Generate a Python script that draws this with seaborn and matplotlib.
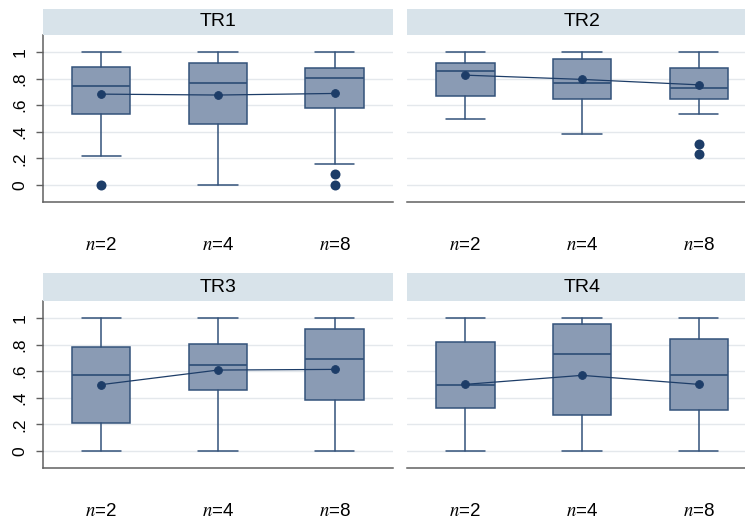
import numpy as np
import pandas as pd
import matplotlib
matplotlib.use("Agg")
import matplotlib.pyplot as plt
import seaborn as sns

# ---- data -----------------------------------------------------------------
groups = ["n=2", "n=4", "n=8"]
tick_labels = [r"$n$=2", r"$n$=4", r"$n$=8"]
panels = ["TR1", "TR2", "TR3", "TR4"]

# five-number summaries per panel (lower whisker, Q1, median, Q3, upper whisker)
tr1_whislo = [0.218, 0.0, 0.155]
tr1_q1 = [0.534, 0.461, 0.577]
tr1_med = [0.747, 0.765, 0.802]
tr1_q3 = [0.887, 0.920, 0.880]
tr1_whishi = [1.0, 1.0, 1.0]
tr1_mean = [0.684, 0.677, 0.689]
tr1_outliers = [[0.0], [], [0.08, 0.0]]

tr2_whislo = [0.499, 0.383, 0.536]
tr2_q1 = [0.672, 0.649, 0.649]
tr2_med = [0.855, 0.765, 0.729]
tr2_q3 = [0.922, 0.952, 0.880]
tr2_whishi = [1.0, 1.0, 1.0]
tr2_mean = [0.827, 0.795, 0.754]
tr2_outliers = [[], [], [0.31, 0.23]]

tr3_whislo = [0.0, 0.0, 0.0]
tr3_q1 = [0.213, 0.459, 0.383]
tr3_med = [0.569, 0.649, 0.689]
tr3_q3 = [0.782, 0.805, 0.920]
tr3_whishi = [1.0, 1.0, 1.0]
tr3_mean = [0.499, 0.609, 0.614]
tr3_outliers = [[], [], []]

tr4_whislo = [0.0, 0.0, 0.0]
tr4_q1 = [0.323, 0.271, 0.308]
tr4_med = [0.496, 0.729, 0.574]
tr4_q3 = [0.820, 0.960, 0.842]
tr4_whishi = [1.0, 1.0, 1.0]
tr4_mean = [0.501, 0.569, 0.501]
tr4_outliers = [[], [], []]

y_ticks = [0, 0.2, 0.4, 0.6, 0.8, 1.0]
y_ticklabels = ["0", ".2", ".4", ".6", ".8", "1"]

summaries = {
    "TR1": (tr1_whislo, tr1_q1, tr1_med, tr1_q3, tr1_whishi, tr1_mean, tr1_outliers),
    "TR2": (tr2_whislo, tr2_q1, tr2_med, tr2_q3, tr2_whishi, tr2_mean, tr2_outliers),
    "TR3": (tr3_whislo, tr3_q1, tr3_med, tr3_q3, tr3_whishi, tr3_mean, tr3_outliers),
    "TR4": (tr4_whislo, tr4_q1, tr4_med, tr4_q3, tr4_whishi, tr4_mean, tr4_outliers),
}

# ---- style ----------------------------------------------------------------
sns.set_theme(style="white")
plt.rcParams["font.family"] = ["Liberation Sans", "DejaVu Sans"]
plt.rcParams["mathtext.fontset"] = "stix"

BOX_FILL = "#8a9bb4"
BOX_EDGE = "#33527a"
DOT = "#1d3d68"
STRIP = "#d8e3ea"
GRID = "#e4e8ec"
AXIS = "#606060"

W, H = 745, 521
fig = plt.figure(figsize=(W / 100, H / 100), dpi=100)


def rect(left, top, right, bottom):
    return [left / W, 1 - bottom / H, (right - left) / W, (bottom - top) / H]


layout = {
    # left, right, strip top, axes top, axes bottom
    "TR1": (43, 393, 9, 35, 202),
    "TR2": (407, 757, 9, 35, 202),
    "TR3": (43, 393, 273, 301, 468),
    "TR4": (407, 757, 273, 301, 468),
}

for name in panels:
    left, right, stop, top, bottom = layout[name]
    whislo, q1, med, q3, whishi, mean, outl = summaries[name]

    ax = fig.add_axes(rect(left, top, right, bottom))
    ax.set_facecolor("white")

    stats = []
    for i in range(len(groups)):
        stats.append(dict(whislo=whislo[i], q1=q1[i], med=med[i], q3=q3[i],
                          whishi=whishi[i], fliers=[]))
    ax.bxp(stats, positions=range(len(groups)), widths=0.5, capwidths=0.335,
           patch_artist=True, showfliers=False, manage_ticks=False,
           boxprops=dict(facecolor=BOX_FILL, edgecolor=BOX_EDGE, linewidth=1.1),
           medianprops=dict(color=BOX_EDGE, linewidth=1.3),
           whiskerprops=dict(color=BOX_EDGE, linewidth=1.1),
           capprops=dict(color=BOX_EDGE, linewidth=1.1))

    # outside values
    out_df = pd.DataFrame([(g, v) for g, vals in zip(groups, outl) for v in vals],
                          columns=["group", "value"])
    if len(out_df):
        sns.stripplot(data=out_df, x="group", y="value", order=groups, jitter=False,
                      size=7.2, color=DOT, linewidth=0, ax=ax, zorder=4)

    # group means joined by a line
    mean_df = pd.DataFrame({"group": groups, "mean": mean})
    sns.pointplot(data=mean_df, x="group", y="mean", order=groups, color=DOT,
                  markers="o", markersize=5.6, linewidth=0.9, errorbar=None,
                  ax=ax, zorder=5)

    ax.set_xlim(-0.5, 2.5)
    ax.set_ylim(-0.13, 1.13)
    ax.set_xlabel("")
    ax.set_ylabel("")
    ax.set_yticks(y_ticks)
    ax.grid(axis="y", color=GRID, linewidth=1.0, zorder=0)
    ax.grid(axis="x", visible=False)
    ax.set_axisbelow(True)

    ax.set_xticks(range(len(groups)))
    ax.set_xticklabels(tick_labels, fontsize=13.5)
    ax.tick_params(axis="x", length=0, pad=25, colors="black")

    for s in ["top", "right"]:
        ax.spines[s].set_visible(False)
    ax.spines["bottom"].set_color(AXIS)
    ax.spines["bottom"].set_linewidth(1.1)

    if name in ("TR1", "TR3"):
        ax.spines["left"].set_color(AXIS)
        ax.spines["left"].set_linewidth(1.1)
        ax.set_yticklabels(y_ticklabels, rotation=90, va="center", fontsize=12.5)
        ax.tick_params(axis="y", left=True, length=5, width=1, color=AXIS,
                       pad=6, labelcolor="black")
    else:
        ax.spines["left"].set_visible(False)
        ax.set_yticklabels([])
        ax.tick_params(axis="y", left=False, length=0)

    # panel title strip
    sax = fig.add_axes(rect(left, stop, right, top))
    sax.set_facecolor(STRIP)
    for s in sax.spines.values():
        s.set_visible(False)
    sax.set_xticks([])
    sax.set_yticks([])
    sax.text(0.5 * (393 - 43) / (right - left), 0.5, name, transform=sax.transAxes,
             ha="center", va="center", fontsize=14, color="black")

fig.savefig("out.png", dpi=100, facecolor="white")
